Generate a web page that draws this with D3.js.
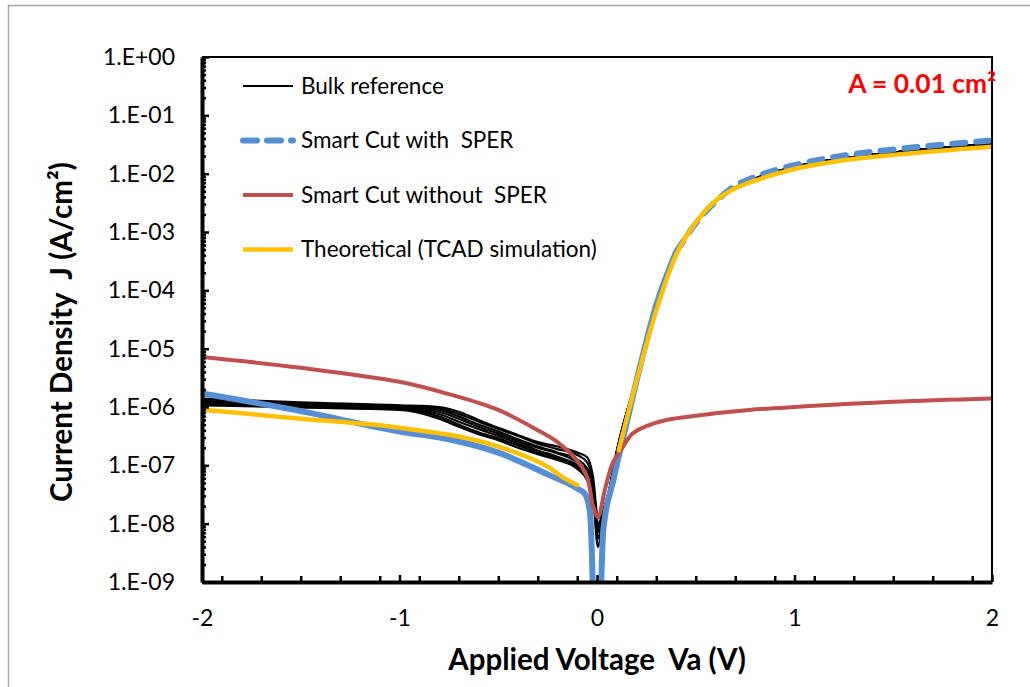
<!DOCTYPE html>
<html>
<head>
<meta charset="utf-8">
<script src="https://cdn.jsdelivr.net/npm/d3@7"></script>
<style>
body { margin: 0; background: #fff; }
text { font-family: Lato, "Open Sans", sans-serif; white-space: pre; }
</style>
</head>
<body>
<div id="chart"></div>
<script>
// Bulk reference: several measured devices, reverse branch read per curve
var bulkRevV = [-2, -1.5, -1, -0.8, -0.7, -0.6, -0.5, -0.4, -0.3, -0.2, -0.1, -0.05, -0.02, 0.005];
var bulk1 = [1.4e-6, 1.2e-6, 1.07e-6, 1.0e-6, 8.3e-7, 6.0e-7, 4.4e-7, 3.3e-7, 2.5e-7, 2.1e-7, 1.66e-7, 1.38e-7, 6.3e-8, 1.26e-8];
var bulk2 = [1.32e-6, 1.15e-6, 1.05e-6, 9.5e-7, 7.6e-7, 5.6e-7, 4.2e-7, 3.2e-7, 2.35e-7, 1.9e-7, 1.5e-7, 1.12e-7, 5.0e-8, 1.0e-8];
var bulk3 = [1.26e-6, 1.12e-6, 1.0e-6, 8.9e-7, 6.9e-7, 5.0e-7, 3.8e-7, 2.8e-7, 2.1e-7, 1.66e-7, 1.26e-7, 8.9e-8, 4.5e-8, 8.9e-9];
var bulk4 = [1.2e-6, 1.07e-6, 9.8e-7, 8.3e-7, 6.3e-7, 4.6e-7, 3.5e-7, 2.6e-7, 2.0e-7, 1.6e-7, 1.12e-7, 7.9e-8, 4.0e-8, 7.9e-9];
var bulk5 = [1.15e-6, 1.02e-6, 9.5e-7, 7.6e-7, 5.6e-7, 4.2e-7, 3.2e-7, 2.4e-7, 1.8e-7, 1.4e-7, 1.0e-7, 7.1e-8, 3.5e-8, 7.1e-9];
var bulk6 = [1.12e-6, 1.0e-6, 9.3e-7, 6.9e-7, 5.0e-7, 3.7e-7, 2.9e-7, 2.2e-7, 1.66e-7, 1.32e-7, 9.3e-8, 6.3e-8, 3.2e-8, 5.6e-9];
var bulk7 = [1.07e-6, 9.8e-7, 8.9e-7, 6.3e-7, 4.6e-7, 3.4e-7, 2.7e-7, 2.0e-7, 1.55e-7, 1.23e-7, 8.7e-8, 5.6e-8, 2.8e-8, 4.0e-9];
// forward branch is the same for all bulk devices (hidden under the other curves)
var bulkFwdV = [0.03, 0.06, 0.1, 0.2, 0.3, 0.4, 0.5, 0.6, 0.8, 1, 1.5, 2];
var bulkFwdJ = [1.5e-8, 3.5e-8, 1.7e-7, 3.0e-6, 4.8e-5, 4.3e-4, 1.5e-3, 3.4e-3, 8.2e-3, 1.3e-2, 2.3e-2, 3.2e-2];

// Smart Cut with SPER
var sperV = [-2, -1.5, -1, -0.75, -0.5, -0.25, -0.1, -0.06, -0.035, 0, 0.032, 0.083, 0.15, 0.2, 0.3, 0.4, 0.5, 0.6, 0.7, 0.8, 1, 1.25, 1.5, 2];
var sperJ = [1.7e-6, 8.5e-7, 3.8e-7, 2.8e-7, 1.65e-7, 7.0e-8, 4.0e-8, 3.2e-8, 1.5e-8, 1e-11, 7.8e-9, 5.6e-8, 5.3e-7, 2.8e-6, 5.6e-5, 4.5e-4, 1.4e-3, 3.3e-3, 6.2e-3, 8.8e-3, 1.4e-2, 2.05e-2, 2.6e-2, 3.7e-2];

// Smart Cut without SPER
var noSperV = [-2, -1.5, -1, -0.75, -0.5, -0.3, -0.2, -0.1, -0.05, -0.02, 0.005, 0.04, 0.08, 0.12, 0.18, 0.25, 0.35, 0.52, 0.6, 0.77, 1, 1.5, 2];
var noSperJ = [7.2e-6, 4.7e-6, 2.7e-6, 1.66e-6, 8.9e-7, 4.0e-7, 2.5e-7, 1.2e-7, 6.3e-8, 2.0e-8, 1.3e-8, 3.8e-8, 1.1e-7, 1.8e-7, 3.5e-7, 4.7e-7, 6.0e-7, 7.2e-7, 7.8e-7, 8.9e-7, 1.0e-6, 1.23e-6, 1.4e-6];

// Theoretical (TCAD), two branches
var tcadRevV = [-2, -1.5, -1, -0.5, -0.25, -0.15, -0.1];
var tcadRevJ = [9.0e-7, 6.3e-7, 4.4e-7, 2.1e-7, 9.5e-8, 5.6e-8, 4.6e-8];
var tcadFwdV = [0.11, 0.2, 0.3, 0.4, 0.5, 0.6, 0.7, 0.8, 1, 1.25, 1.5, 2];
var tcadFwdJ = [1.8e-7, 2.8e-6, 4.5e-5, 4.0e-4, 1.45e-3, 3.4e-3, 5.6e-3, 7.6e-3, 1.2e-2, 1.7e-2, 2.1e-2, 2.9e-2];

var seriesNames = ["Bulk reference", "Smart Cut with  SPER", "Smart Cut without  SPER", "Theoretical (TCAD simulation)"];
var seriesColors = ["#000000", "#558ed5", "#c0504d", "#ffc000"];

var xTicks = [-2, -1, 0, 1, 2];
var xTickLabels = ["-2", "-1", "0", "1", "2"];
var yTicks = [1, 1e-1, 1e-2, 1e-3, 1e-4, 1e-5, 1e-6, 1e-7, 1e-8, 1e-9];
var yTickLabels = ["1.E+00", "1.E-01", "1.E-02", "1.E-03", "1.E-04", "1.E-05", "1.E-06", "1.E-07", "1.E-08", "1.E-09"];

function pts(vs, js) {
    return vs.map(function(v, i) { return [v, js[i]]; });
}

function init() {
    var w = 1030;
    var h = 687;
    var left = 202, right = 992, top = 57, bottom = 582;

    var svg = d3.select("#chart")
                .append("svg")
                .attr("width", w)
                .attr("height", h);

    // outer chart frame
    svg.append("rect")
       .attr("x", 8.5).attr("y", 5.5)
       .attr("width", 1200).attr("height", 900)
       .attr("fill", "none")
       .attr("stroke", "#a6a6a6")
       .attr("stroke-width", 1.5);

    svg.append("clipPath").attr("id", "plot")
       .append("rect")
       .attr("x", left).attr("y", top)
       .attr("width", right - left).attr("height", bottom - top);

    var x = d3.scaleLinear().domain([-2, 2]).range([left, right]);
    var y = d3.scaleLog().domain([1e-9, 1]).range([bottom, top]);

    var line = d3.line()
                 .x(function(d) { return x(d[0]); })
                 .y(function(d) { return y(d[1]); })
                 .curve(d3.curveMonotoneX);
    var smooth = d3.line()
                 .x(function(d) { return x(d[0]); })
                 .y(function(d) { return y(d[1]); })
                 .curve(d3.curveCatmullRom.alpha(0.5));

    var plot = svg.append("g").attr("clip-path", "url(#plot)");

    // bulk curves
    var fwd = pts(bulkFwdV, bulkFwdJ);
    [bulk1, bulk2, bulk3, bulk4, bulk5, bulk6, bulk7].forEach(function(b) {
        plot.append("path")
            .attr("d", line(pts(bulkRevV, b).concat(fwd)))
            .attr("fill", "none")
            .attr("stroke", seriesColors[0])
            .attr("stroke-width", 2.2);
    });

    // with SPER: solid where points are dense, dashed on the forward plateau
    var sper = pts(sperV, sperJ);
    var split = sperV.indexOf(0.4);
    plot.append("path")
        .attr("d", line(sper.slice(0, split + 1)))
        .attr("fill", "none")
        .attr("stroke", seriesColors[1])
        .attr("stroke-width", 6);
    plot.append("path")
        .attr("d", line(sper.slice(split)))
        .attr("fill", "none")
        .attr("stroke", seriesColors[1])
        .attr("stroke-width", 6)
        .attr("stroke-linecap", "round")
        .attr("stroke-dasharray", "13,11");

    plot.append("path")
        .attr("d", smooth(pts(noSperV, noSperJ)))
        .attr("fill", "none")
        .attr("stroke", seriesColors[2])
        .attr("stroke-width", 4);

    [pts(tcadRevV, tcadRevJ), pts(tcadFwdV, tcadFwdJ)].forEach(function(p) {
        plot.append("path")
            .attr("d", line(p))
            .attr("fill", "none")
            .attr("stroke", seriesColors[3])
            .attr("stroke-width", 4.5)
            .attr("stroke-linecap", "round");
    });

    // top and right border
    svg.append("path")
       .attr("d", "M" + left + "," + top + "H" + right + "V" + bottom)
       .attr("fill", "none")
       .attr("stroke", "#000")
       .attr("stroke-width", 2);

    // y axis
    var minorY = [];
    yTicks.slice(1).forEach(function(t) {
        d3.range(2, 10).forEach(function(m) { minorY.push(t * m); });
    });
    svg.append("g")
       .attr("transform", "translate(" + left + ",0)")
       .call(d3.axisLeft(y).tickValues(minorY).tickSize(-4).tickSizeOuter(0).tickFormat(""))
       .call(function(g) { g.select(".domain").remove(); });
    var yAxis = svg.append("g")
       .attr("transform", "translate(" + left + ",0)")
       .call(d3.axisLeft(y)
               .tickValues(yTicks)
               .tickFormat(function(d, i) { return yTickLabels[i]; })
               .tickSize(-7)
               .tickSizeOuter(0)
               .tickPadding(27));
    yAxis.selectAll("text").attr("font-size", 23).attr("fill", "#000").attr("font-family", "Lato");

    // x axis
    var minorX = d3.range(-19, 20, 2).map(function(k) { return k / 10; });
    svg.append("g")
       .attr("transform", "translate(0," + bottom + ")")
       .call(d3.axisBottom(x).tickValues(minorX).tickSize(-6).tickSizeOuter(0).tickFormat(""))
       .call(function(g) { g.select(".domain").remove(); });
    var xAxis = svg.append("g")
       .attr("transform", "translate(0," + bottom + ")")
       .call(d3.axisBottom(x)
               .tickValues(xTicks)
               .tickFormat(function(d, i) { return xTickLabels[i]; })
               .tickSize(-7)
               .tickSizeOuter(0)
               .tickPadding(28));
    xAxis.selectAll("text").attr("font-size", 23).attr("fill", "#000").attr("font-family", "Lato");

    svg.selectAll(".tick line").attr("stroke", "#000").attr("stroke-width", 2.5);
    svg.selectAll(".domain").attr("stroke", "#000").attr("stroke-width", 4);

    // axis titles
    svg.append("text")
       .attr("x", (left + right) / 2)
       .attr("y", 670)
       .attr("text-anchor", "middle")
       .attr("font-size", 29.5)
       .attr("font-weight", "bold")
       .text("Applied Voltage  Va (V)");
    svg.append("text")
       .attr("transform", "translate(72,332) rotate(-90)")
       .attr("text-anchor", "middle")
       .attr("font-size", 29.5)
       .attr("font-weight", "bold")
       .text("Current Density  J (A/cm²)");

    // area note
    svg.append("text")
       .attr("x", 996)
       .attr("y", 93)
       .attr("text-anchor", "end")
       .attr("font-size", 26.4)
       .attr("font-weight", "bold")
       .attr("fill", "#ff0000")
       .text("A = 0.01 cm²");

    // legend
    var leg = svg.selectAll("g.leg")
                 .data(seriesNames)
                 .enter()
                 .append("g")
                 .attr("class", "leg")
                 .attr("transform", function(d, i) { return "translate(243," + (86 + i * 54.5) + ")"; });
    leg.append("line")
       .attr("x1", 0).attr("x2", 50)
       .attr("stroke", function(d, i) { return seriesColors[i]; })
       .attr("stroke-width", function(d, i) { return [2, 6, 4, 4.5][i]; })
       .attr("stroke-linecap", function(d, i) { return i == 1 ? "round" : "butt"; })
       .attr("stroke-dasharray", function(d, i) { return i == 1 ? "14,10" : null; });
    leg.append("text")
       .attr("x", 58)
       .attr("dy", "0.35em")
       .attr("font-size", 22.5)
       .text(function(d) { return d; });
}
window.onload = init;
</script>
</body>
</html>
